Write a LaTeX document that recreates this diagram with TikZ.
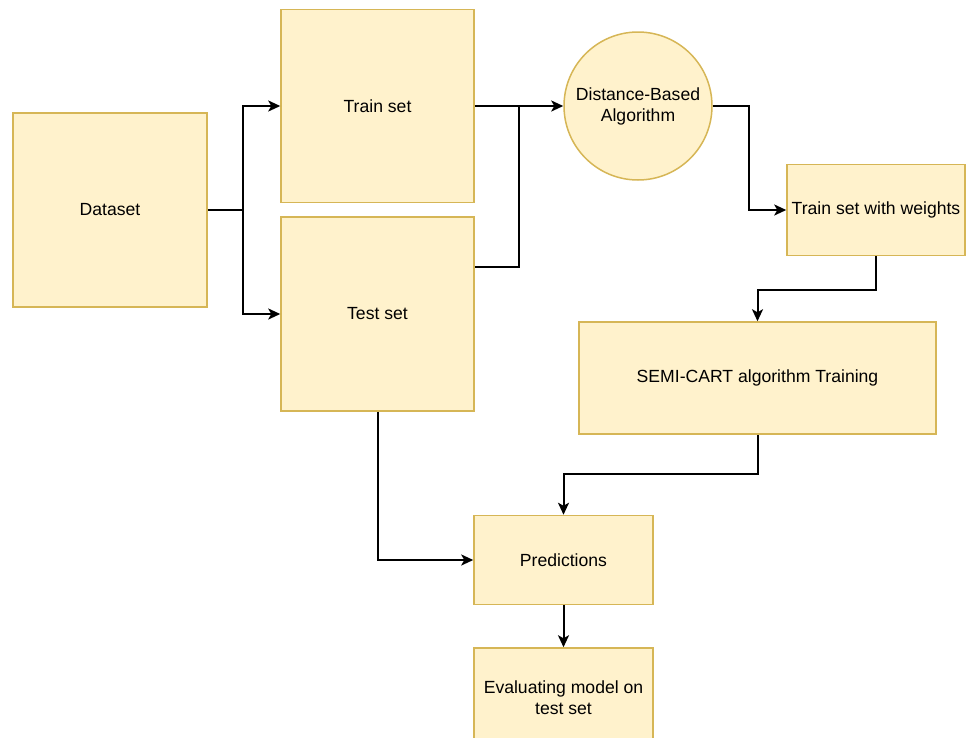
\documentclass[tikz,border=0pt]{standalone}
\usepackage{fontspec}
\setmainfont{Liberation Sans}
\usetikzlibrary{arrows.meta}
\definecolor{boxfill}{HTML}{FFF2CC}
\definecolor{boxdraw}{HTML}{D6B656}
\begin{document}
\begin{tikzpicture}[x=1pt,y=-1pt,
  box/.style={draw=boxdraw,fill=boxfill,line width=1.5pt,inner sep=0pt,align=center,font=\fontsize{17.6}{21}\selectfont},
  conn/.style={line width=2pt,-{Stealth[length=12pt,width=11pt,inset=3pt]}},
  plain/.style={line width=2pt}]
\useasboundingbox (0,0) rectangle (966,737);
\node[box,minimum width=194pt,minimum height=194pt] (ds) at (110,210) {Dataset};
\node[box,minimum width=193pt,minimum height=193pt] (tr) at (377.5,106) {Train set};
\node[box,minimum width=193pt,minimum height=194pt] (te) at (377.5,314) {Test set};
\node[box,circle,minimum size=148pt] (alg) at (638,106) {Distance-Based\\Algorithm};
\node[box,minimum width=178pt,minimum height=91pt] (tw) at (876,210) {Train set with weights};
\node[box,minimum width=357pt,minimum height=112pt] (sc) at (757.5,378) {SEMI-CART algorithm Training};
\node[box,minimum width=179pt,minimum height=89pt] (pr) at (563.5,560) {Predictions};
\node[box,minimum width=179pt,minimum height=100pt] (ev) at (563.5,698) {Evaluating model on\\test set};
\coordinate (j1) at (243,210);
\coordinate (j2) at (519,106);
\draw[plain] (ds.east) -- (j1);
\draw[conn] (j1) |- (tr.west);
\draw[conn] (j1) |- (te.west);
\draw[conn] (tr.east) -- (alg.west);
\draw[plain] (te.east |- 0,267) -| (j2);
\draw[conn] (alg.east) -- (749,106) |- (tw.west);
\draw[conn] (tw.south) -- (tw.south |- 0,290) -| (sc.north);
\draw[conn] (sc.south) -- (sc.south |- 0,474) -| (pr.north);
\draw[conn] (te.south) |- (pr.west);
\draw[conn] (pr.south) -- (ev.north);
\end{tikzpicture}
\end{document}
